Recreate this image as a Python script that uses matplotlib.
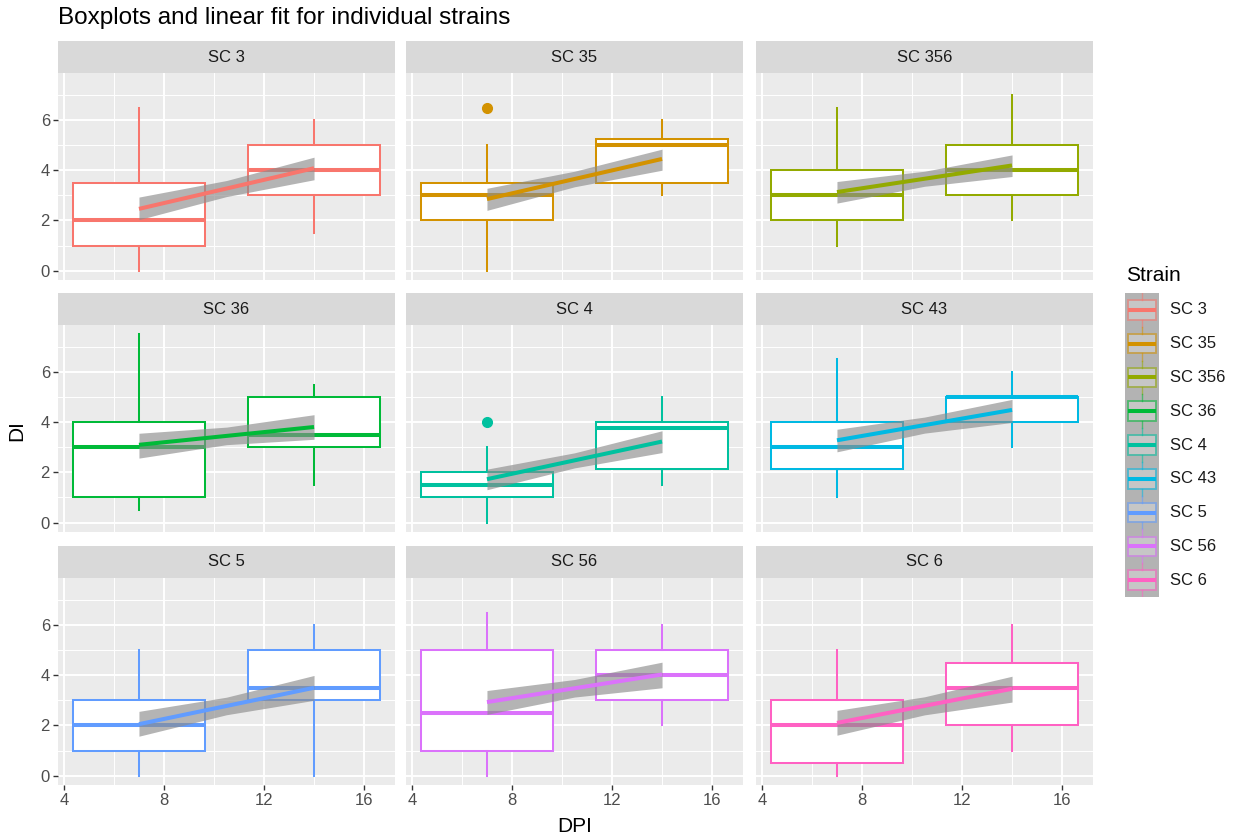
import matplotlib.pyplot as plt
from matplotlib.patches import Rectangle
import numpy as np

plt.rcParams['font.family'] = ['Liberation Sans', 'DejaVu Sans']

strains = ['SC 3', 'SC 35', 'SC 356', 'SC 36', 'SC 4', 'SC 43', 'SC 5', 'SC 56', 'SC 6']
strain_colors = ['#F8766D', '#D39200', '#93AA00', '#00BA38', '#00C19F',
                 '#00B9E3', '#619CFF', '#DB72FB', '#FF61C3']
dpi_days = [7, 14]

# box summaries at 7 DPI
lo_7 = [0, 0, 1, 0.5, 0, 1, 0, 0, 0]
q1_7 = [1, 2, 2, 1, 1, 2.125, 1, 1, 0.5]
med_7 = [2, 3, 3, 3, 1.5, 3, 2, 2.5, 2]
q3_7 = [3.5, 3.5, 4, 4, 2, 4, 3, 5, 3]
hi_7 = [6.5, 5, 6.5, 7.5, 3, 6.5, 5, 6.5, 5]
outliers_7 = {'SC 35': [6.5], 'SC 4': [4]}

# box summaries at 14 DPI
lo_14 = [1.5, 3, 2, 1.5, 1.5, 3, 0, 2, 1]
q1_14 = [3, 3.5, 3, 3, 2.125, 4, 3, 3, 2]
med_14 = [4, 5, 4, 3.5, 3.75, 5, 3.5, 4, 3.5]
q3_14 = [5, 5.25, 5, 5, 4, 5, 5, 5, 4.5]
hi_14 = [6, 6, 7, 5.5, 5, 6, 6, 6, 6]

# linear fit and its confidence band
fit_7 = [2.46, 2.85, 3.13, 3.10, 1.73, 3.28, 2.05, 2.93, 2.10]
fit_14 = [4.08, 4.45, 4.19, 3.81, 3.23, 4.49, 3.50, 4.03, 3.46]
band_lo_7 = [2.03, 2.40, 2.69, 2.57, 1.31, 2.82, 1.57, 2.44, 1.61]
band_hi_7 = [2.93, 3.28, 3.55, 3.56, 2.13, 3.72, 2.56, 3.39, 2.60]
band_lo_14 = [3.62, 4.00, 3.75, 3.32, 2.79, 3.99, 3.00, 3.50, 2.93]
band_hi_14 = [4.52, 4.84, 4.61, 4.30, 3.66, 4.91, 3.99, 4.52, 3.96]
band_half_mid = [0.32, 0.31, 0.30, 0.35, 0.30, 0.32, 0.35, 0.35, 0.36]

W, H = 1238, 839
fig = plt.figure(figsize=(W / 100, H / 100), dpi=100)


def px_axes(x0, y0, x1, y1):
    return fig.add_axes([x0 / W, 1 - y1 / H, (x1 - x0) / W, (y1 - y0) / H])


col_x = [58, 406, 756]
row_top = [41, 293, 546]
panel_w, strip_h, panel_h = 337, 32, 207
box_width = 5.25

for i, name in enumerate(strains):
    r, c = divmod(i, 3)
    col = strain_colors[i]
    x0 = col_x[c]
    y0 = row_top[r]

    # facet strip
    sax = px_axes(x0, y0, x0 + panel_w, y0 + strip_h)
    sax.set_facecolor('#D9D9D9')
    sax.set_xticks([])
    sax.set_yticks([])
    for s in sax.spines.values():
        s.set_visible(False)
    sax.text(0.5, 0.5, name, ha='center', va='center', fontsize=12, color='#1A1A1A',
             transform=sax.transAxes)

    ax = px_axes(x0, y0 + strip_h, x0 + panel_w, y0 + strip_h + panel_h)
    ax.set_facecolor('#EBEBEB')
    for s in ax.spines.values():
        s.set_visible(False)
    ax.set_xlim(3.7625, 17.2375)
    ax.set_ylim(-0.375, 7.875)
    ax.set_xticks([4, 8, 12, 16])
    ax.set_xticks([6, 10, 14], minor=True)
    ax.set_yticks([0, 2, 4, 6])
    ax.set_yticks([1, 3, 5, 7], minor=True)
    ax.grid(which='major', color='white', lw=1.4)
    ax.grid(which='minor', color='white', lw=0.7)
    ax.set_axisbelow(True)
    ax.tick_params(which='minor', length=0)
    ax.tick_params(which='major', length=3.8, width=1.0, color='#333333',
                   labelsize=12, labelcolor='#4D4D4D', pad=2)
    if c != 0:
        ax.tick_params(axis='y', length=0, labelleft=False)
    if r != 2:
        ax.tick_params(axis='x', length=0, labelbottom=False)

    stats = [
        dict(whislo=lo_7[i], q1=q1_7[i], med=med_7[i], q3=q3_7[i], whishi=hi_7[i],
             fliers=outliers_7.get(name, [])),
        dict(whislo=lo_14[i], q1=q1_14[i], med=med_14[i], q3=q3_14[i], whishi=hi_14[i],
             fliers=[]),
    ]
    ax.bxp(stats, positions=dpi_days, widths=box_width, patch_artist=True,
           showcaps=False, manage_ticks=False, zorder=2,
           boxprops=dict(facecolor='white', edgecolor=col, lw=1.45),
           medianprops=dict(color=col, lw=2.9, solid_capstyle='butt'),
           whiskerprops=dict(color=col, lw=1.45),
           flierprops=dict(marker='o', markerfacecolor=col, markeredgecolor=col,
                           markersize=7))

    # confidence band and fitted line
    mid = (fit_7[i] + fit_14[i]) / 2
    band_x = [7, 10.5, 14]
    band_lo = [band_lo_7[i], mid - band_half_mid[i], band_lo_14[i]]
    band_hi = [band_hi_7[i], mid + band_half_mid[i], band_hi_14[i]]
    ax.fill_between(band_x, band_lo, band_hi, color='#8C8C8C', alpha=0.65, lw=0, zorder=3)
    ax.plot(dpi_days, [fit_7[i], fit_14[i]], color=col, lw=2.9, zorder=4,
            solid_capstyle='butt')

fig.text(58 / W, 1 - 18 / H, 'Boxplots and linear fit for individual strains',
         ha='left', va='center', fontsize=17.5, color='black')
fig.text(575 / W, 1 - 826 / H, 'DPI', ha='center', va='center', fontsize=15)
fig.text(17 / W, 1 - 431 / H, 'DI', ha='center', va='center', fontsize=15, rotation=90)

# legend
fig.text(1126 / W, 1 - 275 / H, 'Strain', ha='left', va='center', fontsize=15)
lax = px_axes(1125, 293, 1159, 597)
lax.set_facecolor('#B3B3B3')
lax.set_xlim(0, 1)
lax.set_ylim(len(strains), 0)
lax.set_xticks([])
lax.set_yticks([])
for s in lax.spines.values():
    s.set_visible(False)
for k, (name, col) in enumerate(zip(strains, strain_colors)):
    cy = k + 0.5
    lax.add_patch(Rectangle((0.1, cy - 0.29), 0.8, 0.58, facecolor='#C6C6C6',
                            edgecolor=col, lw=1.2, alpha=1.0))
    lax.add_patch(Rectangle((0.1, cy - 0.29), 0.8, 0.58, facecolor='none',
                            edgecolor='#B3B3B3', lw=1.2, alpha=0.45))
    lax.plot([0.5, 0.5], [k, cy - 0.29], color=col, lw=1.0, alpha=0.55)
    lax.plot([0.5, 0.5], [cy + 0.29, k + 1], color=col, lw=1.0, alpha=0.55)
    lax.plot([0.1, 0.9], [cy, cy], color=col, lw=2.9, solid_capstyle='butt')
    fig.text(1170 / W, 1 - (293 + (k + 0.5) * 304 / len(strains)) / H, name,
             ha='left', va='center', fontsize=12, color='#1A1A1A')

fig.savefig('out.png', dpi=100)
